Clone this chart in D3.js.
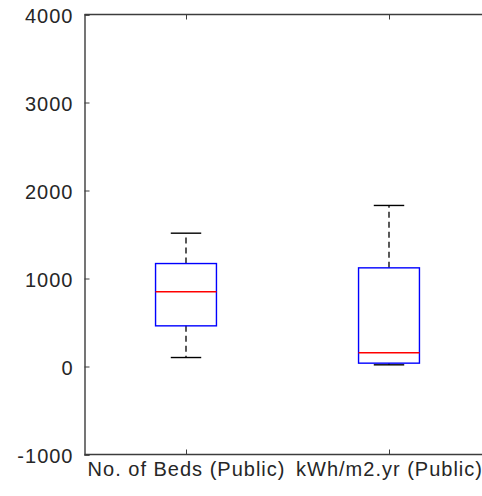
<!DOCTYPE html>
<html>
<head>
<meta charset="utf-8">
<script src="https://cdn.jsdelivr.net/npm/d3@7"></script>
<style>
  html, body { margin: 0; padding: 0; background: #fff; }
  svg { display: block; }
  text { font-family: "Liberation Sans", Arial, sans-serif; fill: #262626; }
</style>
</head>
<body>
<svg id="chart" width="482" height="496"></svg>
<script>
// Box-plot summary statistics per group
const categories = ["No. of Beds (Public)", "kWh/m2.yr (Public)"];
const whiskerLow  = [102, 19];
const q1          = [462, 38];
const medians     = [849, 156];
const q3          = [1170, 1121];
const whiskerHigh = [1515, 1830];
const yTicks = [-1000, 0, 1000, 2000, 3000, 4000];

const svg = d3.select("#chart");
const W = 482, H = 496;
const plotLeft = 84.5, plotTop = 14.5, plotBottom = 454.5;
const fontSize = 20;

// Positions 1..n with half-unit padding; the frame runs past the right edge
const x = d3.scaleLinear().domain([0.5, categories.length + 0.5]).range([plotLeft, 490.5]);
const y = d3.scaleLinear().domain([-1000, 4000]).range([plotBottom, plotTop]);

const boxW = 0.3, capW = 0.15;
const axisColor = "#3c3c3c";

// Axes frame
const frame = svg.append("g");
frame.append("line").attr("x1", plotLeft).attr("x2", W + 10).attr("y1", plotTop).attr("y2", plotTop)
  .attr("stroke", axisColor).attr("stroke-width", 1.4);
frame.append("line").attr("x1", plotLeft).attr("x2", W + 10).attr("y1", plotBottom).attr("y2", plotBottom)
  .attr("stroke", axisColor).attr("stroke-width", 1.4);

// Left axis with inward ticks; plain hyphen for negatives
const yAxis = d3.axisLeft(y).tickValues(yTicks).tickSize(-5).tickFormat((d) => String(d));
const yG = svg.append("g").attr("transform", `translate(${plotLeft},0)`).call(yAxis);
yG.select(".domain").attr("stroke", axisColor).attr("stroke-width", 1.4);
yG.selectAll(".tick line").attr("stroke", axisColor);
yG.selectAll(".tick text").attr("font-size", fontSize).attr("fill", "#262626")
  .attr("letter-spacing", 1).attr("x", -11).attr("dy", "0.42em");

// Bottom axis with inward ticks
const xAxis = d3.axisBottom(x).tickValues(d3.range(1, categories.length + 1))
  .tickSize(-5).tickPadding(7).tickFormat((d) => categories[d - 1]);
const xG = svg.append("g").attr("transform", `translate(0,${plotBottom})`).call(xAxis);
xG.select(".domain").remove();
xG.selectAll(".tick line").attr("stroke", axisColor);
xG.selectAll(".tick text").attr("font-size", fontSize).attr("fill", "#262626")
  .attr("letter-spacing", 1);

// Top ticks
const topAxis = d3.axisTop(x).tickValues(d3.range(1, categories.length + 1)).tickSize(-5).tickFormat("");
const tG = svg.append("g").attr("transform", `translate(0,${plotTop})`).call(topAxis);
tG.select(".domain").remove();
tG.selectAll(".tick line").attr("stroke", axisColor);

// Boxes
const groups = svg.append("g").selectAll("g").data(categories).join("g");
groups.each(function (c, i) {
  const g = d3.select(this);
  const cx = x(i + 1);
  // whiskers (dashed)
  g.append("line").attr("x1", cx).attr("x2", cx)
    .attr("y1", y(q3[i])).attr("y2", y(whiskerHigh[i]))
    .attr("stroke", "#000").attr("stroke-width", 1.3).attr("stroke-dasharray", "6,4");
  g.append("line").attr("x1", cx).attr("x2", cx)
    .attr("y1", y(q1[i])).attr("y2", y(whiskerLow[i]))
    .attr("stroke", "#000").attr("stroke-width", 1.3).attr("stroke-dasharray", "6,4");
  // caps
  [whiskerHigh[i], whiskerLow[i]].forEach((v) => {
    g.append("line").attr("x1", x(i + 1 - capW / 2)).attr("x2", x(i + 1 + capW / 2))
      .attr("y1", y(v)).attr("y2", y(v)).attr("stroke", "#000").attr("stroke-width", 1.4);
  });
  // box
  g.append("rect").attr("x", x(i + 1 - boxW / 2)).attr("width", x(i + 1 + boxW / 2) - x(i + 1 - boxW / 2))
    .attr("y", y(q3[i])).attr("height", y(q1[i]) - y(q3[i]))
    .attr("fill", "none").attr("stroke", "#0000ff").attr("stroke-width", 1.4);
  // median
  g.append("line").attr("x1", x(i + 1 - boxW / 2)).attr("x2", x(i + 1 + boxW / 2))
    .attr("y1", y(medians[i])).attr("y2", y(medians[i]))
    .attr("stroke", "#ff0000").attr("stroke-width", 1.4);
});
</script>
</body>
</html>
